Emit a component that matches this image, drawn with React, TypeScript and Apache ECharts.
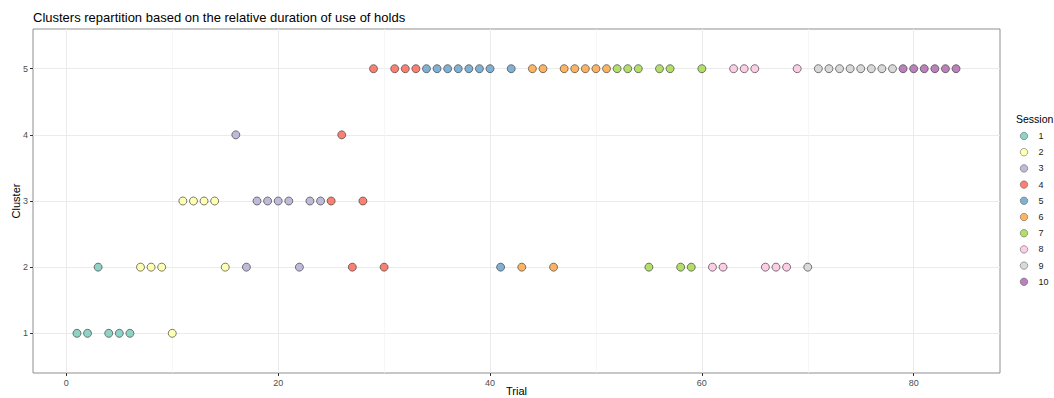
import React, { useEffect, useRef } from "react";
import * as echarts from "echarts";

const trials = [
  1, 2, 3, 4, 5, 6, 7, 8, 9, 10, 11, 12, 13, 14, 15, 16, 17, 18, 19, 20, 21,
  22, 23, 24, 25, 26, 27, 28, 29, 30, 31, 32, 33, 34, 35, 36, 37, 38, 39, 40,
  41, 42, 43, 44, 45, 46, 47, 48, 49, 50, 51, 52, 53, 54, 55, 56, 57, 58, 59,
  60, 61, 62, 63, 64, 65, 66, 67, 68, 69, 70, 71, 72, 73, 74, 75, 76, 77, 78,
  79, 80, 81, 82, 83, 84,
];

const clusters = [
  1, 1, 2, 1, 1, 1,
  2, 2, 2, 1, 3, 3, 3, 3, 2,
  4, 2, 3, 3, 3, 3, 2, 3, 3,
  3, 4, 2, 3, 5, 2, 5, 5, 5,
  5, 5, 5, 5, 5, 5, 5, 2, 5,
  2, 5, 5, 2, 5, 5, 5, 5, 5,
  5, 5, 5, 2, 5, 5, 2, 2, 5,
  2, 2, 5, 5, 5, 2, 2, 2, 5,
  2, 5, 5, 5, 5, 5, 5, 5, 5,
  5, 5, 5, 5, 5, 5,
];

const sessions = [
  1, 1, 1, 1, 1, 1,
  2, 2, 2, 2, 2, 2, 2, 2, 2,
  3, 3, 3, 3, 3, 3, 3, 3, 3,
  4, 4, 4, 4, 4, 4, 4, 4, 4,
  5, 5, 5, 5, 5, 5, 5, 5, 5,
  6, 6, 6, 6, 6, 6, 6, 6, 6,
  7, 7, 7, 7, 7, 7, 7, 7, 7,
  8, 8, 8, 8, 8, 8, 8, 8, 8,
  9, 9, 9, 9, 9, 9, 9, 9, 9,
  10, 10, 10, 10, 10, 10,
];

const sessionNames = ["1", "2", "3", "4", "5", "6", "7", "8", "9", "10"];
const sessionColors = [
  "#8DD3C7", "#FFFFB3", "#BEBADA", "#FB8072", "#80B1D3",
  "#FDB462", "#B3DE69", "#FCCDE5", "#D9D9D9", "#BC80BD",
];

const xTickValues = [0, 20, 40, 60, 80];
const xMinorValues = [10, 30, 50, 70];
const yTickValues = [1, 2, 3, 4, 5];

export default function App() {
  const ref = useRef<HTMLDivElement>(null);

  useEffect(() => {
    document.body.style.margin = "0";
    const chart = echarts.init(ref.current!, null, { renderer: "svg" });
    const font = "'Liberation Sans', Arial, sans-serif";

    const series = sessionNames.map((name, si) => ({
      type: "scatter",
      name,
      xAxisIndex: 0,
      yAxisIndex: 0,
      data: trials
        .map((t, i) => [t, clusters[i], sessions[i]])
        .filter((d) => d[2] === si + 1)
        .map((d) => [d[0], d[1]]),
      symbol: "circle",
      symbolSize: 8,
      itemStyle: {
        color: sessionColors[si],
        borderColor: "#444444",
        borderWidth: 0.7,
        opacity: 1,
      },
      emphasis: { disabled: true },
    }));

    const xMin = -3.15;
    const xMax = 88.15;

    chart.setOption({
      animation: false,
      backgroundColor: "#ffffff",
      textStyle: { fontFamily: font },
      graphic: [
        {
          type: "text",
          left: 33,
          top: 11,
          style: {
            text: "Clusters repartition based on the relative duration of use of holds",
            fontSize: 13,
            fill: "#000",
            fontFamily: font,
          },
        },
        {
          type: "text",
          left: 1016,
          top: 113,
          style: {
            text: "Session",
            fontSize: 10.5,
            fill: "#000",
            fontFamily: font,
          },
        },
      ],
      legend: {
        orient: "vertical",
        left: 1020,
        top: 131.5,
        icon: "circle",
        itemWidth: 19,
        itemHeight: 7.5,
        itemGap: 7.2,
        padding: 0,
        itemStyle: { borderWidth: 0.5, borderColor: "#555555" },
        textStyle: { fontSize: 9, color: "#1a1a1a", fontFamily: font },
        data: sessionNames,
        selectedMode: false,
      },
      grid: {
        left: 33,
        right: 54,
        top: 29,
        bottom: 25,
        containLabel: false,
        outerBoundsMode: "none",
        show: true,
        borderColor: "#8f8f8f",
        borderWidth: 1,
      },
      xAxis: [
        {
          type: "value",
          min: xMin,
          max: xMax,
          name: "Trial",
          nameLocation: "middle",
          nameGap: 12.5,
          nameMoveOverlap: false,
          nameTextStyle: { fontSize: 11, color: "#000", fontFamily: font },
          axisLine: { show: false, onZero: false },
          axisTick: {
            show: true,
            length: 3,
            customValues: xTickValues,
            lineStyle: { color: "#333" },
          },
          axisLabel: {
            customValues: xTickValues,
            fontSize: 9,
            color: "#4d4d4d",
            margin: 5,
            fontFamily: font,
          },
          splitLine: { show: true, lineStyle: { color: "#ebebeb", width: 1 } },
        },
        {
          type: "value",
          min: xMin,
          max: xMax,
          position: "bottom",
          axisLine: { show: false, onZero: false },
          axisTick: { show: false, customValues: xMinorValues },
          axisLabel: { show: false, customValues: xMinorValues },
          splitLine: { show: true, lineStyle: { color: "#f2f2f2", width: 0.7 } },
        },
      ],
      yAxis: {
        type: "value",
        min: 0.4,
        max: 5.6,
        name: "Cluster",
        nameLocation: "middle",
        nameGap: 12,
        nameMoveOverlap: false,
        nameRotate: 90,
        nameTextStyle: { fontSize: 11, color: "#000", fontFamily: font },
        axisLine: { show: false, onZero: false },
        axisTick: {
          show: true,
          length: 3,
          customValues: yTickValues,
          lineStyle: { color: "#333" },
        },
        axisLabel: {
          customValues: yTickValues,
          fontSize: 9,
          color: "#4d4d4d",
          margin: 5,
          fontFamily: font,
        },
        splitLine: { show: true, lineStyle: { color: "#ebebeb", width: 1 } },
      },
      series,
    });

    return () => chart.dispose();
  }, []);

  return <div ref={ref} style={{ width: 1054, height: 398 }} />;
}
